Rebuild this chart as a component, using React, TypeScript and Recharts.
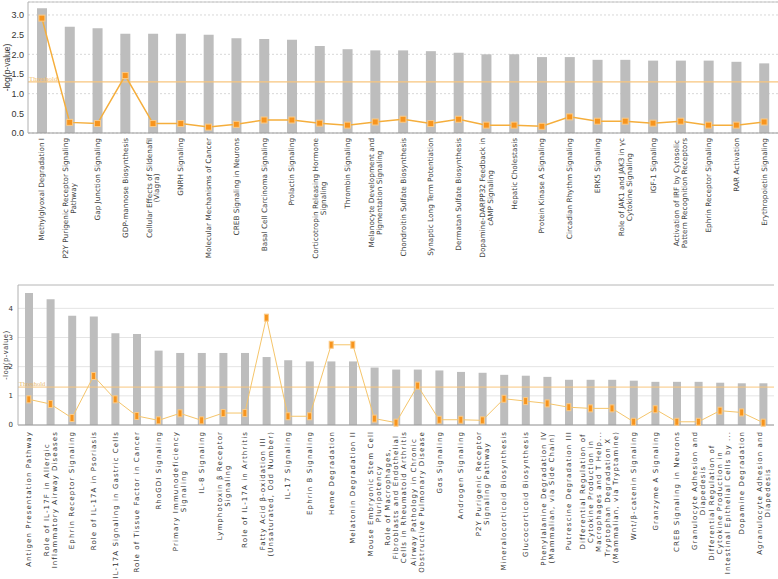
import React from "react";
import {
	ComposedChart,
	Bar,
	Line,
	XAxis,
	YAxis,
	CartesianGrid,
	ReferenceLine,
} from "recharts";

// top panel
const topPathways = [
	"Methylglyoxal Degradation I",
	"P2Y Purigenic Receptor Signaling\nPathway",
	"Gap Junction Signaling",
	"GDP-mannose Biosynthesis",
	"Cellular Effects of Sildenafil\n(Viagra)",
	"GNRH Signaling",
	"Molecular Mechanisms of Cancer",
	"CREB Signaling in Neurons",
	"Basal Cell Carcinoma Signaling",
	"Prolactin Signaling",
	"Corticotropin Releasing Hormone\nSignaling",
	"Thrombin Signaling",
	"Melanocyte Development and\nPigmentation Signaling",
	"Chondroitin Sulfate Biosynthesis",
	"Synaptic Long Term Potentiation",
	"Dermatan Sulfate Biosynthesis",
	"Dopamine-DARPP32 Feedback in\ncAMP Signaling",
	"Hepatic Cholestasis",
	"Protein Kinase A Signaling",
	"Circadian Rhythm Signaling",
	"ERK5 Signaling",
	"Role of JAK1 and JAK3 in γc\nCytokine Signaling",
	"IGF-1 Signaling",
	"Activation of IRF by Cytosolic\nPattern Recognition Receptors",
	"Ephrin Receptor Signaling",
	"RAR Activation",
	"Erythropoietin Signaling",
];
const topLogP = [
	3.17, 2.7, 2.66, 2.52, 2.52, 2.52, 2.5, 2.41, 2.39, 2.37, 2.21, 2.13, 2.1,
	2.1, 2.08, 2.04, 2.0, 2.0, 1.93, 1.93, 1.86, 1.86, 1.84, 1.84, 1.84, 1.81,
	1.77,
];
const topRatio = [
	2.92, 0.27, 0.24, 1.46, 0.24, 0.24, 0.15, 0.22, 0.33, 0.33, 0.25, 0.2, 0.28,
	0.35, 0.24, 0.35, 0.2, 0.2, 0.17, 0.41, 0.3, 0.3, 0.25, 0.3, 0.2, 0.2, 0.28,
];
const topTicks = [0, 0.5, 1, 1.5, 2, 2.5, 3];

// bottom panel
const bottomPathways = [
	"Antigen Presentation Pathway",
	"Role of IL-17F in Allergic\nInflammatory Airway Diseases",
	"Ephrin Receptor Signaling",
	"Role of IL-17A in Psoriasis",
	"IL-17A Signaling in Gastric Cells",
	"Role of Tissue Factor in Cancer",
	"RhoGDI Signaling",
	"Primary Immunodeficiency\nSignaling",
	"IL-8 Signaling",
	"Lymphotoxin β Receptor\nSignaling",
	"Role of IL-17A in Arthritis",
	"Fatty Acid β-oxidation III\n(Unsaturated, Odd Number)",
	"IL-17 Signaling",
	"Ephrin B Signaling",
	"Heme Degradation",
	"Melatonin Degradation II",
	"Mouse Embryonic Stem Cell\nPluripotency",
	"Role of Macrophages,\nFibroblasts and Endothelial\nCells in Rheumatoid Arthritis",
	"Airway Pathology in Chronic\nObstructive Pulmonary Disease",
	"Gαs Signaling",
	"Androgen Signaling",
	"P2Y Purigenic Receptor\nSignaling Pathway",
	"Mineralocorticoid Biosynthesis",
	"Glucocorticoid Biosynthesis",
	"Phenylalanine Degradation IV\n(Mammalian, via Side Chain)",
	"Putrescine Degradation III",
	"Differential Regulation of\nCytokine Production in\nMacrophages and T Help...",
	"Tryptophan Degradation X\n(Mammalian, via Tryptamine)",
	"Wnt/β-catenin Signaling",
	"Granzyme A Signaling",
	"CREB Signaling in Neurons",
	"Granulocyte Adhesion and\nDiapedesis",
	"Differential Regulation of\nCytokine Production in\nIntestinal Epithelial Cells by ...",
	"Dopamine Degradation",
	"Agranulocyte Adhesion and\nDiapedesis",
];
const bottomLogP = [
	4.53, 4.31, 3.75, 3.72, 3.15, 3.12, 2.55, 2.47, 2.47, 2.47, 2.47, 2.33, 2.22,
	2.18, 2.18, 2.18, 1.97, 1.9, 1.9, 1.87, 1.82, 1.79, 1.72, 1.69, 1.65, 1.55,
	1.55, 1.55, 1.52, 1.48, 1.48, 1.48, 1.45, 1.43, 1.43,
];
const bottomRatio = [
	0.88, 0.72, 0.24, 1.68, 0.88, 0.31, 0.16, 0.4, 0.16, 0.41, 0.41, 3.68, 0.3,
	0.3, 2.75, 2.75, 0.22, 0.08, 1.35, 0.18, 0.18, 0.16, 0.9, 0.82, 0.74, 0.61,
	0.57, 0.57, 0.11, 0.54, 0.11, 0.11, 0.49, 0.43, 0.08,
];
const bottomTicks = [0, 1, 2, 3, 4];

const THRESHOLD = 1.3;

const topData = topPathways.map((name, i) => ({
	name,
	logp: topLogP[i],
	ratio: topRatio[i],
}));
const bottomData = bottomPathways.map((name, i) => ({
	name,
	logp: bottomLogP[i],
	ratio: bottomRatio[i],
}));

let ctx: CanvasRenderingContext2D | null = null;
function measure(text: string, font: string, spacing: number) {
	if (!ctx) ctx = document.createElement("canvas").getContext("2d");
	if (!ctx) return text.length * 4;
	ctx.font = font;
	return ctx.measureText(text).width + spacing * text.length;
}

interface TickOpts {
	size: number;
	spacing: number;
	lineHeight: number;
	gap: number;
	color: string;
}

const makeTick = (o: TickOpts) => (props: any) => {
	const { x, y, payload } = props;
	const lines = String(payload.value).split("\n");
	const font = `${o.size}px "DejaVu Sans"`;
	const maxW = Math.max(...lines.map((l) => measure(l, font, o.spacing)));
	const cx = -(o.gap + maxW / 2);
	return (
		<g transform={`translate(${x},${y})`}>
			<text
				transform="rotate(-90)"
				textAnchor="middle"
				fontFamily="DejaVu Sans"
				fontSize={o.size}
				letterSpacing={o.spacing}
				fill={o.color}
			>
				{lines.map((l, i) => (
					<tspan
						key={i}
						x={cx}
						y={(i - (lines.length - 1) / 2) * o.lineHeight + o.size * 0.35}
					>
						{l}
					</tspan>
				))}
			</text>
		</g>
	);
};

const marker = (w: number, h: number) => (props: any) => {
	const { cx, cy, index } = props;
	return (
		<rect
			key={`m-${index}`}
			x={cx - w / 2}
			y={cy - h / 2}
			width={w}
			height={h}
			fill="#F7941D"
			stroke="#FBCB87"
			strokeWidth={1}
		/>
	);
};

// rotated y axis title, drawn in its own small svg
const AxisTitle = ({ x, top, h, size, spacing }: { x: number; top: number; h: number; size: number; spacing: number }) => (
	<svg
		width={16}
		height={h}
		style={{ position: "absolute", left: 0, top }}
	>
		<text
			x={x}
			y={h / 2}
			transform={`rotate(-90, ${x}, ${h / 2})`}
			textAnchor="middle"
			dominantBaseline="central"
			fontFamily="Liberation Sans"
			fontSize={size}
			letterSpacing={spacing}
			fill="#333"
		>
			-log(p-value)
		</text>
	</svg>
);

export default function App() {
	return (
		<div
			style={{
				position: "absolute",
				left: 0,
				top: 0,
				width: 778,
				height: 579,
				background: "#fff",
			}}
		>
			<div style={{ position: "absolute", left: 0, top: 0 }}>
				<ComposedChart
					width={778}
					height={272}
					data={topData}
					margin={{ top: 2, right: 0, bottom: 0, left: 0 }}
				>
					<CartesianGrid
						vertical={false}
						stroke="#d8d8d8"
						strokeDasharray="2 2"
					/>
					<XAxis
						dataKey="name"
						interval={0}
						height={139}
						tickLine={false}
						tickSize={0}
						tickMargin={0}
						stroke="#9a9a9a"
						tick={makeTick({
							size: 7.3,
							spacing: 0,
							lineHeight: 7.8,
							gap: 5,
							color: "#444",
						})}
					/>
					<YAxis
						width={28}
						domain={[0, 3.33]}
						ticks={topTicks}
						tickFormatter={(v) => v.toFixed(1)}
						stroke="#b0b0b0"
						tickLine={false}
						tickSize={0}
						tick={{ fontSize: 9, fill: "#333", fontFamily: "Liberation Sans" }}
						tickMargin={4}
					/>
					<ReferenceLine y={3.33} stroke="#c4c4c4" />
					<ReferenceLine
						y={THRESHOLD}
						stroke="#F8C67E"
						strokeWidth={1.2}
						label={{
							value: "Threshold",
							position: "insideBottomLeft",
							fill: "#F4BE6E",
							fontSize: 7,
							offset: 1,
						}}
					/>
					<Bar
						dataKey="logp"
						fill="#BDBDBD"
						barSize={10}
						isAnimationActive={false}
					/>
					<Line
						dataKey="ratio"
						type="linear"
						stroke="#F5AE3C"
						strokeWidth={1.5}
						dot={marker(6, 6)}
						isAnimationActive={false}
					/>
				</ComposedChart>
			</div>
			<AxisTitle x={7} top={0} h={135} size={8.5} spacing={0} />
			<div style={{ position: "absolute", left: 0, top: 280 }}>
				<ComposedChart
					width={778}
					height={299}
					data={bottomData}
					margin={{ top: 5, right: 4, bottom: 0, left: 0 }}
				>
					<CartesianGrid vertical={false} stroke="#e4e4e4" />
					<XAxis
						dataKey="name"
						interval={0}
						height={154}
						tickLine={false}
						tickSize={0}
						tickMargin={0}
						stroke="#9a9a9a"
						tick={makeTick({
							size: 7,
							spacing: 1.1,
							lineHeight: 8,
							gap: 6,
							color: "#333",
						})}
					/>
					<YAxis
						width={18}
						domain={[0, 4.8]}
						ticks={bottomTicks}
						stroke="#b0b0b0"
						tickLine={false}
						tickSize={0}
						tick={{ fontSize: 7, fill: "#333", fontFamily: "DejaVu Sans" }}
						tickMargin={5}
					/>
					<ReferenceLine y={4.8} stroke="#c4c4c4" />
					<ReferenceLine
						y={THRESHOLD}
						stroke="#F8C67E"
						strokeWidth={1}
						label={{
							value: "Threshold",
							position: "insideBottomLeft",
							fill: "#E8B86A",
							fontSize: 6.5,
							offset: 1,
						}}
					/>
					<Bar
						dataKey="logp"
						fill="#BDBDBD"
						barSize={8}
						isAnimationActive={false}
					/>
					<Line
						dataKey="ratio"
						type="linear"
						stroke="#F5C56B"
						strokeWidth={1}
						dot={marker(4, 7)}
						isAnimationActive={false}
					/>
				</ComposedChart>
			</div>
			<AxisTitle x={5} top={285} h={140} size={7} spacing={0.8} />
		</div>
	);
}
